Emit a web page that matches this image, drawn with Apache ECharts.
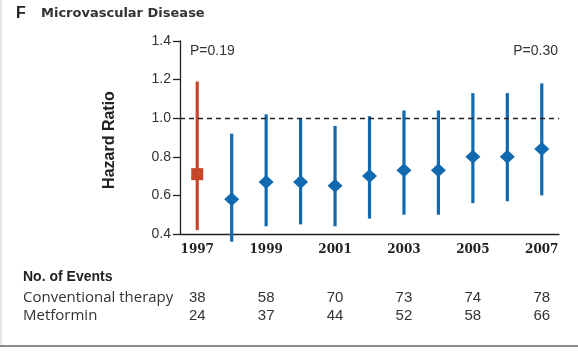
<!DOCTYPE html>
<html><head><meta charset="utf-8">
<script src="https://cdn.jsdelivr.net/npm/echarts@6/dist/echarts.min.js"></script>
<style>html,body{margin:0;padding:0;background:#fff}#c{width:578px;height:354px}</style>
</head><body><div id="c"></div>
<script>
const years = ['1997','1998','1999','2000','2001','2002','2003','2004','2005','2006','2007'];
const hr    = [0.71, 0.58, 0.67, 0.67, 0.65, 0.70, 0.73, 0.73, 0.80, 0.80, 0.84];
const lower = [0.42, 0.36, 0.44, 0.45, 0.44, 0.48, 0.50, 0.50, 0.56, 0.57, 0.60];
const upper = [1.19, 0.92, 1.02, 1.00, 0.96, 1.01, 1.04, 1.04, 1.13, 1.13, 1.18];
const yTicks = [0.4, 0.6, 0.8, 1.0, 1.2, 1.4];
const eventYears = ['1997','1999','2001','2003','2005','2007'];
const conventional = [38, 58, 70, 73, 74, 78];
const metformin = [24, 37, 44, 52, 58, 66];

const RED = '#c6452b', BLUE = '#1169b0';
const chart = echarts.init(document.getElementById('c'));
const colorAt = i => i === 0 ? RED : BLUE;

function txt(x, y, text, size, opts) {
  return Object.assign({type: 'text', x: x, y: y, style: Object.assign({
    text: text, fontFamily: 'Liberation Sans', fontSize: size, fill: '#333', verticalAlign: 'middle'
  }, opts && opts.style)}, opts && opts.el);
}

const staticGraphic = [
  {type: 'line', shape: {x1: 1, y1: 0, x2: 1, y2: 346}, style: {stroke: '#ccc', lineWidth: 1}},
  {type: 'line', shape: {x1: 0, y1: 346, x2: 578, y2: 346}, style: {stroke: '#8a8a8a', lineWidth: 2}},
  txt(16, 14, 'F', 16, {style: {fontWeight: 'bold', fill: '#222'}}),
  txt(41, 14, 'Microvascular Disease', 13, {style: {fontFamily: 'DejaVu Sans', fontWeight: 'bold'}}),
  txt(110, 140, 'Hazard Ratio', 16, {style: {fontWeight: 'bold', fill: '#222', align: 'center'}, el: {rotation: Math.PI / 2}}),
  txt(190, 51, 'P=0.19', 14),
  txt(558, 51, 'P=0.30', 14, {style: {align: 'right'}}),
  txt(23, 277, 'No. of Events', 14, {style: {fontWeight: 'bold', fill: '#222'}}),
  txt(23, 298, 'Conventional therapy', 15, {style: {fontFamily: 'Open Sans'}}),
  txt(23, 316, 'Metformin', 15, {style: {fontFamily: 'Open Sans'}})
];

chart.setOption({
  animation: false,
  grid: {left: 180, right: 19, top: 41, bottom: 120},
  xAxis: {
    type: 'category', data: years, boundaryGap: true,
    axisLine: {lineStyle: {color: '#222', width: 1.3}},
    axisTick: {show: false},
    axisLabel: {interval: 1, color: '#222', fontFamily: 'DejaVu Serif', fontWeight: 'bold', fontSize: 12, margin: 10}
  },
  yAxis: {
    type: 'value', min: yTicks[0], max: yTicks[yTicks.length - 1], interval: 0.2,
    axisLine: {show: true, lineStyle: {color: '#222', width: 1.3}},
    axisTick: {show: true, length: 7, lineStyle: {color: '#222', width: 1.3}},
    splitLine: {show: false},
    axisLabel: {color: '#333', fontFamily: 'Liberation Sans', fontSize: 14, margin: 9,
      formatter: v => v.toFixed(1)}
  },
  series: [
    {
      type: 'custom', clip: false,
      data: years.map((y, i) => [i, lower[i], upper[i]]),
      encode: {x: 0, y: [1, 2]},
      renderItem: (params, api) => {
        const i = api.value(0);
        const a = api.coord([i, api.value(1)]);
        const b = api.coord([i, api.value(2)]);
        return {type: 'line', shape: {x1: a[0], y1: a[1], x2: b[0], y2: b[1]},
          style: {stroke: colorAt(i), lineWidth: 3.2}};
      },
      markLine: {
        silent: true, symbol: 'none', label: {show: false},
        lineStyle: {type: [5, 4], color: '#222', width: 1.3},
        data: [{yAxis: 1.0}]
      }
    },
    {
      type: 'scatter',
      data: hr.map((v, i) => ({
        value: [i, v],
        symbol: i === 0 ? 'rect' : 'diamond',
        symbolSize: i === 0 ? [12, 12] : [15, 14],
        itemStyle: {color: colorAt(i), opacity: 1}
      })),
      z: 5
    }
  ]
});

const extra = [];
eventYears.forEach((y, k) => {
  const px = chart.convertToPixel({xAxisIndex: 0}, y);
  extra.push(txt(px, 298, String(conventional[k]), 15, {style: {align: 'center'}}));
  extra.push(txt(px, 316, String(metformin[k]), 15, {style: {align: 'center'}}));
});
chart.setOption({graphic: {elements: staticGraphic.concat(extra)}});
</script></body></html>
